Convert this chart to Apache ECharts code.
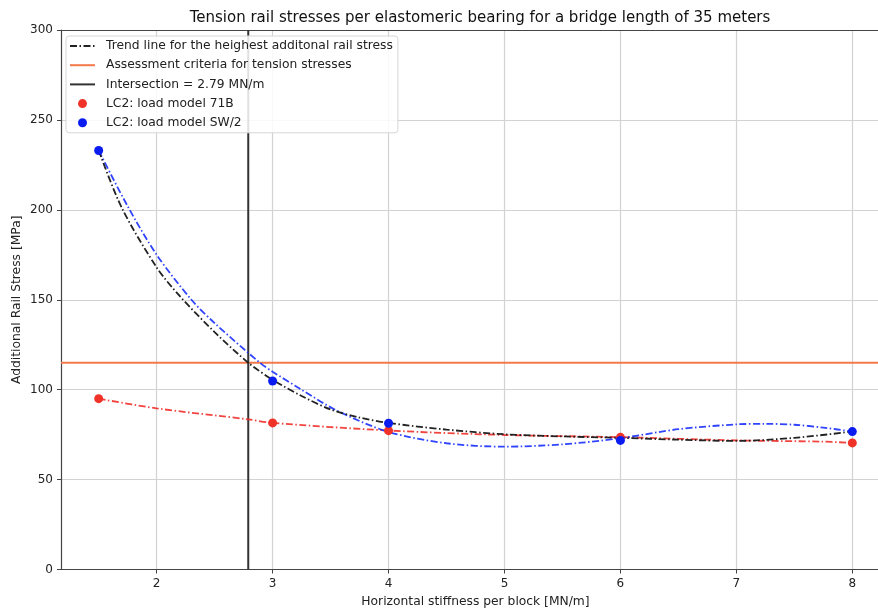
<!DOCTYPE html>
<html><head><meta charset="utf-8">
<script src="https://cdn.jsdelivr.net/npm/echarts@6/dist/echarts.min.js"></script>
<style>html,body{margin:0;padding:0;background:#fff}#c{width:878px;height:613px}</style>
</head><body><div id="c"></div><script>
const titleText = 'Tension rail stresses per elastomeric bearing for a bridge length of 35 meters';
const xName = 'Horizontal stiffness per block [MN/m]';
const yName = 'Additional Rail Stress [MPa]';
const xTicks = [2, 3, 4, 5, 6, 7, 8];
const yTicks = [0, 50, 100, 150, 200, 250, 300];

// measured points
const stiffness = [1.5, 3, 4, 6, 8];
const stress71B = [95, 81.5, 77.2, 73.5, 70.4];
const stressSW2 = [233, 104.8, 81.3, 71.8, 76.7];

// assessment criterion and intersection
const criteria = 115;
const intersection = 2.79;

// trend line
const trendX = [1.5, 1.7, 2.0, 2.2, 2.5, 2.79, 3.0, 3.25, 3.5, 3.75, 4.0, 4.5, 5.0, 5.5, 6.0, 6.5, 7.0, 7.5, 8.0];
const trendY = [233, 201, 168, 152, 132, 115, 105.5, 96.5, 89, 84.5, 81.5, 77.8, 75.2, 74, 73.2, 72.2, 71.5, 73.2, 76.7];

// SW/2 fitted curve
const curveSWX = [1.5, 1.75, 2.0, 2.3, 2.5, 2.89, 3.0, 3.25, 3.55, 4.0, 4.5, 5.0, 5.5, 6.0, 6.5, 7.0, 7.25, 7.5, 7.75, 8.0];
const curveSWY = [233, 202, 175, 150, 137, 115, 110, 100, 88.5, 76.5, 70.2, 68.3, 69.6, 73, 78, 80.7, 81, 80.5, 78.9, 76.7];

// 71B fitted curve
const curve71BX = [1.5, 2.0, 2.79, 3.0, 4.0, 5.0, 6.0, 7.0, 7.75, 8.0];
const curve71BY = [95, 89.6, 83.5, 81.5, 77.3, 74.8, 73.6, 71.8, 71.1, 70.4];

const xMin = 1.175, xMax = 8.325;
const zip = (a, b) => a.map((v, i) => [v, b[i]]);
const dashDot = [7, 2.5, 1.5, 2.5];
const font = 'DejaVu Sans';
const hideSymbol = {opacity: 0};

const chart = echarts.init(document.getElementById('c'), null, {renderer: 'canvas'});
chart.setOption({
  animation: false,
  backgroundColor: '#fff',
  textStyle: {fontFamily: font},
  title: {
    text: titleText, left: 475, top: 6, textAlign: 'center',
    textStyle: {fontFamily: font, fontSize: 15, fontWeight: 'normal', color: '#111'}
  },
  grid: {left: 61, top: 30, right: -12, bottom: 43.5, containLabel: false, outerBoundsMode: 'none'},
  legend: {
    orient: 'vertical', left: 66, top: 36,
    itemWidth: 25, itemHeight: 9, itemGap: 7.2,
    padding: [4, 5, 4, 3],
    borderColor: '#d6d6d6', borderWidth: 1, borderRadius: 3,
    backgroundColor: 'rgba(255,255,255,0.85)',
    textStyle: {fontFamily: font, fontSize: 12.3, color: '#222', padding: [0, 0, 0, 6]},
    data: [
      {name: 'Trend line for the heighest additonal rail stress', itemStyle: hideSymbol},
      {name: 'Assessment criteria for tension stresses', itemStyle: hideSymbol},
      {name: 'Intersection = 2.79 MN/m', itemStyle: hideSymbol},
      {name: 'LC2: load model 71B', icon: 'circle'},
      {name: 'LC2: load model SW/2', icon: 'circle'}
    ]
  },
  xAxis: [{
    type: 'value', min: xMin, max: xMax,
    name: xName, nameLocation: 'middle', nameGap: 26,
    nameTextStyle: {fontFamily: font, fontSize: 12.3, color: '#222'},
    axisLine: {show: true, onZero: false, lineStyle: {color: '#444', width: 1.2}},
    axisTick: {show: true, length: 4, customValues: xTicks, lineStyle: {color: '#444'}},
    axisLabel: {customValues: xTicks, margin: 8, fontFamily: font, fontSize: 12, color: '#222'},
    splitLine: {show: true, lineStyle: {color: '#d2d2d2', width: 1.2}}
  }, {
    type: 'value', min: xMin, max: xMax, position: 'top',
    axisLine: {show: true, onZero: false, lineStyle: {color: '#444', width: 1.2}},
    axisTick: {show: false}, axisLabel: {show: false}, splitLine: {show: false}
  }],
  yAxis: {
    type: 'value', min: 0, max: 300, interval: 50,
    name: yName, nameLocation: 'middle', nameGap: 38, nameMoveOverlap: false,
    nameTextStyle: {fontFamily: font, fontSize: 12.3, color: '#222'},
    axisLine: {show: true, onZero: false, lineStyle: {color: '#444', width: 1.2}},
    axisTick: {show: true, length: 4, lineStyle: {color: '#444'}},
    axisLabel: {margin: 8, fontFamily: font, fontSize: 12, color: '#222',
      formatter: v => yTicks.includes(v) ? String(v) : ''},
    splitLine: {show: true, lineStyle: {color: '#d2d2d2', width: 1.2}}
  },
  series: [
    {
      name: 'LC2: load model 71B curve', type: 'line', smooth: 0.3, symbol: 'none',
      data: zip(curve71BX, curve71BY),
      lineStyle: {color: '#f0302a', width: 1.8, type: dashDot, opacity: 0.9}, z: 3
    },
    {
      name: 'LC2: load model SW/2 curve', type: 'line', smooth: 0.3, symbol: 'none',
      data: zip(curveSWX, curveSWY),
      lineStyle: {color: '#1a30ff', width: 1.8, type: dashDot, opacity: 0.9}, z: 3
    },
    {
      name: 'Trend line for the heighest additonal rail stress', type: 'line', smooth: 0.3, symbol: 'none',
      data: zip(trendX, trendY),
      itemStyle: {color: '#222'},
      lineStyle: {color: '#222', width: 1.8, type: dashDot}, z: 4
    },
    {
      name: 'Assessment criteria for tension stresses', type: 'line', symbol: 'none',
      data: [[xMin, criteria], [xMax, criteria]],
      itemStyle: {color: '#f4784a'},
      lineStyle: {color: '#f4784a', width: 2}, z: 2
    },
    {
      name: 'Intersection = 2.79 MN/m', type: 'line', symbol: 'none',
      data: [[intersection, 0], [intersection, 300]],
      itemStyle: {color: '#333'},
      lineStyle: {color: '#333', width: 2}, z: 2
    },
    {
      name: 'LC2: load model 71B', type: 'scatter', symbol: 'circle', symbolSize: 9,
      data: zip(stiffness, stress71B),
      itemStyle: {color: '#ef3328', opacity: 1}, z: 5
    },
    {
      name: 'LC2: load model SW/2', type: 'scatter', symbol: 'circle', symbolSize: 9,
      data: zip(stiffness, stressSW2),
      itemStyle: {color: '#0a1cf0', opacity: 1}, z: 5
    }
  ]
});
</script></body></html>
